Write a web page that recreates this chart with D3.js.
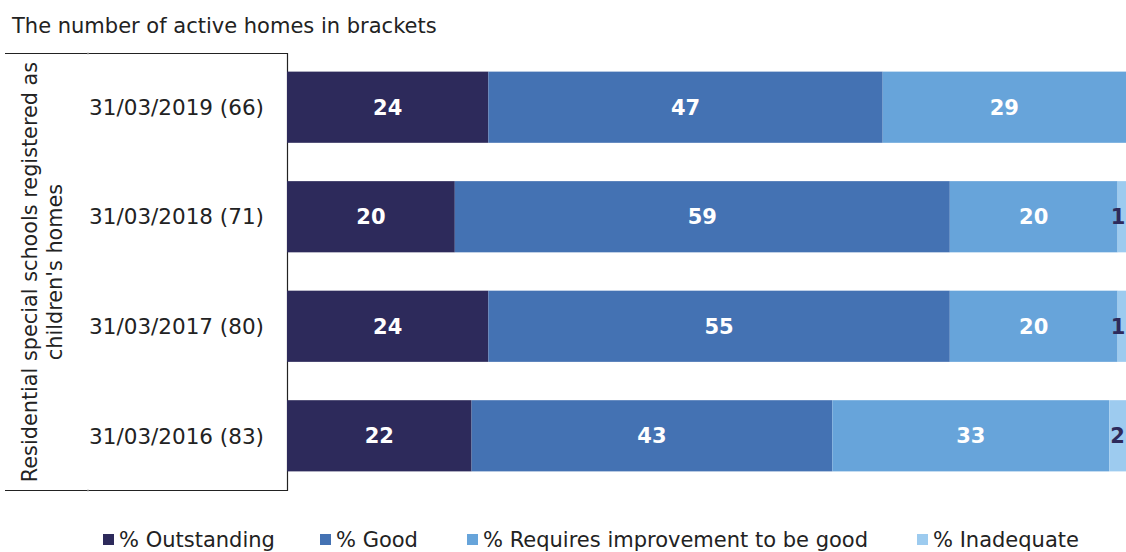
<!DOCTYPE html>
<html>
<head>
<meta charset="utf-8">
<script src="https://cdn.jsdelivr.net/npm/d3@7"></script>
<style>
  body { margin: 0; background: #fff; }
  text { font-family: "DejaVu Sans", Verdana, sans-serif; }
</style>
</head>
<body>
<script>
const categories = ["31/03/2019 (66)", "31/03/2018 (71)", "31/03/2017 (80)", "31/03/2016 (83)"];
const seriesNames = ["% Outstanding", "% Good", "% Requires improvement to be good", "% Inadequate"];
const outstanding = [24, 20, 24, 22];
const good = [47, 59, 55, 43];
const requiresImprovement = [29, 20, 20, 33];
const inadequate = [0, 1, 1, 2];
const colors = ["#2d2a5b", "#4472b3", "#67a4da", "#9dcbef"];
const labelColors = ["#fff", "#fff", "#fff", "#2d2a5b"];

const width = 1126, height = 552;
const keys = ["o", "g", "r", "i"];
const rows = categories.map((c, i) => ({
  cat: c, o: outstanding[i], g: good[i], r: requiresImprovement[i], i: inadequate[i]
}));
const stacked = d3.stack().keys(keys)(rows);

const svg = d3.select("body").append("svg")
    .attr("width", width)
    .attr("height", height)
    .attr("viewBox", [0, 0, width, height]);

const x = d3.scaleLinear([0, 100], [287, 1126]);
const y = d3.scaleBand(categories, [53, 490]).paddingInner(0.35).paddingOuter(0.17);

// title
svg.append("text")
    .attr("x", 12).attr("y", 33)
    .attr("font-size", 21)
    .attr("fill", "#222")
    .text("The number of active homes in brackets");

// frame round the category labels
const frame = svg.append("g").attr("stroke", "#222").attr("stroke-width", 1.2).attr("fill", "none");
frame.append("path").attr("d", "M5,53.5H287.5V490.5H5");
frame.append("path").attr("d", "M88,52.5V54.5M88,489.5V491.5").attr("stroke", "#aaa");

// bars
svg.append("g")
  .selectAll("g")
  .data(stacked)
  .join("g")
    .attr("fill", (d, i) => colors[i])
  .selectAll("rect")
  .data(d => d)
  .join("rect")
    .attr("x", d => x(d[0]))
    .attr("y", d => y(d.data.cat))
    .attr("width", d => x(d[1]) - x(d[0]))
    .attr("height", y.bandwidth());

// value labels (kept inside the right edge)
svg.append("g")
  .selectAll("g")
  .data(stacked)
  .join("g")
    .attr("fill", (d, i) => labelColors[i])
  .selectAll("text")
  .data(d => d.filter(s => s[1] - s[0] > 0))
  .join("text")
    .attr("x", d => Math.min((x(d[0]) + x(d[1])) / 2, width - 8))
    .attr("y", d => y(d.data.cat) + y.bandwidth() / 2)
    .attr("dy", "0.36em")
    .attr("text-anchor", "middle")
    .attr("font-size", 21)
    .attr("font-weight", "bold")
    .text(d => d[1] - d[0]);

// category labels
svg.append("g")
  .selectAll("text")
  .data(categories)
  .join("text")
    .attr("x", 264)
    .attr("y", d => y(d) + y.bandwidth() / 2)
    .attr("dy", "0.36em")
    .attr("text-anchor", "end")
    .attr("font-size", 21.5)
    .attr("fill", "#222")
    .text(d => d);

// rotated axis title
const yTitle = svg.append("text")
    .attr("transform", "translate(0,272) rotate(-90)")
    .attr("text-anchor", "middle")
    .attr("font-size", 20.8)
    .attr("fill", "#222");
yTitle.append("tspan").attr("x", 0).attr("y", 37).text("Residential special schools registered as");
yTitle.append("tspan").attr("x", 0).attr("y", 62).text("children's homes");

// legend
const legendX = [103, 320, 467, 917];
const legend = svg.append("g")
  .selectAll("g")
  .data(seriesNames)
  .join("g")
    .attr("transform", (d, i) => `translate(${legendX[i]},0)`);
legend.append("rect")
    .attr("x", 0).attr("y", 534)
    .attr("width", 11).attr("height", 11)
    .attr("fill", (d, i) => colors[i]);
legend.append("text")
    .attr("x", 16).attr("y", 547)
    .attr("font-size", 21)
    .attr("fill", "#222")
    .text(d => d);
</script>
</body>
</html>
